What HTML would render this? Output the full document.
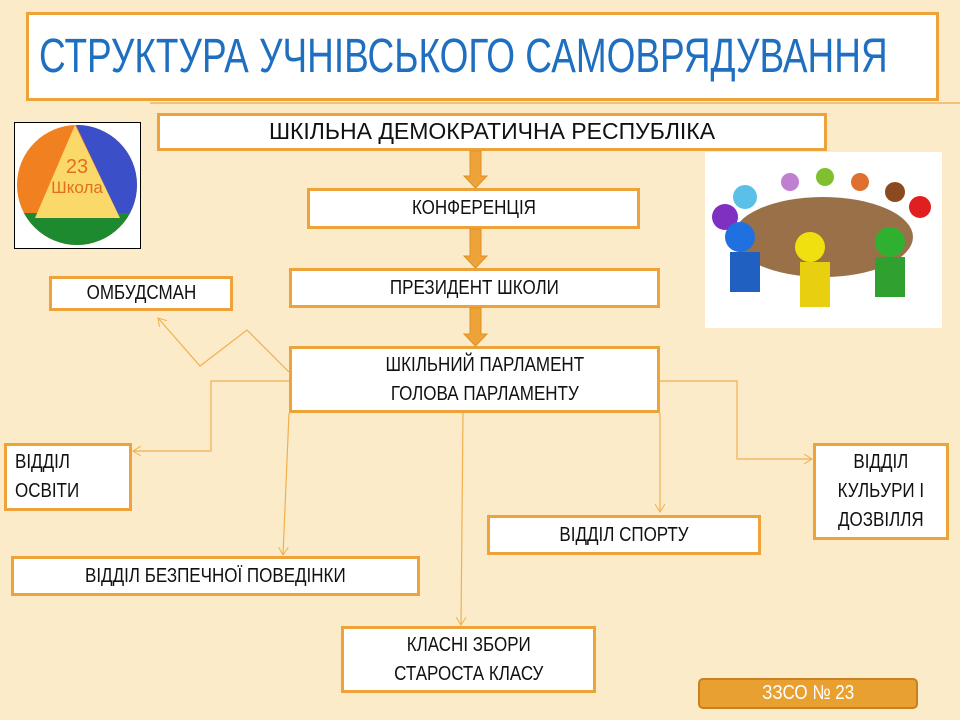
<!DOCTYPE html>
<html><head><meta charset="utf-8"><style>
body{margin:0;width:960px;height:720px;background:#fcebc8;position:relative;overflow:hidden;font-family:"Liberation Sans",sans-serif}
.b{position:absolute;background:#fff;border:3px solid #eda33a;box-sizing:border-box;font-size:20px;color:#111;display:flex;align-items:center;justify-content:center;text-align:center;line-height:1.45}
.n{display:inline-block;transform:scaleX(.85);white-space:nowrap}
</style></head><body>
<div class="b" style="left:26px;top:12px;width:913px;height:89px;justify-content:flex-start;padding-left:10px">
<span style="display:inline-block;transform:scaleX(.77);transform-origin:left;color:#1f6fc0;font-size:48px;white-space:nowrap">СТРУКТУРА УЧНІВСЬКОГО САМОВРЯДУВАННЯ</span></div>
<div style="position:absolute;left:150px;top:102px;width:810px;height:2px;background:#f0c27a"></div>
<div style="position:absolute;left:14px;top:122px;width:127px;height:127px;background:#fff;border:1px solid #000;box-sizing:border-box">
<svg width="125" height="125" viewBox="0 0 125 125"><defs><clipPath id="c"><circle cx="62" cy="62" r="60"/></clipPath></defs>
<g clip-path="url(#c)"><rect width="125" height="125" fill="#f08020"/><polygon points="60,0 125,0 125,95 105,95" fill="#3a4fc8"/><rect y="90" width="125" height="40" fill="#1e8a30"/><polygon points="60,2 20,95 105,95" fill="#fbd86a"/></g>
<text x="62" y="50" text-anchor="middle" font-size="20" fill="#e07020">23</text><text x="62" y="70" text-anchor="middle" font-size="17" fill="#e07020">Школа</text></svg></div>
<div class="b" style="left:157px;top:113px;width:670px;height:38px;font-size:23px"><span class="n" style="transform:scaleX(1)">ШКІЛЬНА ДЕМОКРАТИЧНА РЕСПУБЛІКА</span></div>
<div class="b" style="left:307px;top:188px;width:333px;height:41px"><span class="n">КОНФЕРЕНЦІЯ</span></div>
<div class="b" style="left:289px;top:268px;width:371px;height:40px"><span class="n">ПРЕЗИДЕНТ ШКОЛИ</span></div>
<div class="b" style="left:289px;top:346px;width:371px;height:67px;padding-left:20px"><span class="n">ШКІЛЬНИЙ ПАРЛАМЕНТ<br>ГОЛОВА ПАРЛАМЕНТУ</span></div>
<div class="b" style="left:49px;top:276px;width:184px;height:35px"><span class="n">ОМБУДСМАН</span></div>
<div class="b" style="left:4px;top:443px;width:128px;height:68px;justify-content:flex-start;text-align:left;padding-left:8px"><span class="n" style="transform-origin:left">ВІДДІЛ<br>ОСВІТИ</span></div>
<div class="b" style="left:11px;top:556px;width:409px;height:40px"><span class="n">ВІДДІЛ БЕЗПЕЧНОЇ ПОВЕДІНКИ</span></div>
<div class="b" style="left:487px;top:515px;width:274px;height:40px"><span class="n">ВІДДІЛ СПОРТУ</span></div>
<div class="b" style="left:813px;top:443px;width:136px;height:97px"><span class="n">ВІДДІЛ<br>КУЛЬУРИ І<br>ДОЗВІЛЛЯ</span></div>
<div class="b" style="left:341px;top:626px;width:255px;height:67px"><span class="n">КЛАСНІ ЗБОРИ<br>СТАРОСТА КЛАСУ</span></div>
<div style="position:absolute;left:698px;top:678px;width:220px;height:31px;background:#e8a030;border:2px solid #c88020;border-radius:5px;box-sizing:border-box;color:#fff;font-size:20px;display:flex;align-items:center;justify-content:center"><span class="n">ЗЗСО № 23</span></div>
<div style="position:absolute;left:705px;top:152px;width:237px;height:176px;background:#fff">
<svg width="237" height="176"><ellipse cx="118" cy="85" rx="90" ry="40" fill="#9a7048"/>
<circle cx="40" cy="45" r="12" fill="#5ac0e8"/><circle cx="85" cy="30" r="9" fill="#c080d0"/><circle cx="120" cy="25" r="9" fill="#80c030"/><circle cx="155" cy="30" r="9" fill="#e07030"/><circle cx="190" cy="40" r="10" fill="#8a4a20"/><circle cx="215" cy="55" r="11" fill="#e02020"/><circle cx="20" cy="65" r="13" fill="#8030c0"/><circle cx="35" cy="85" r="15" fill="#2070e0"/><circle cx="105" cy="95" r="15" fill="#f0e010"/><circle cx="185" cy="90" r="15" fill="#30b030"/>
<rect x="25" y="100" width="30" height="40" fill="#2060c0"/><rect x="95" y="110" width="30" height="45" fill="#e8d010"/><rect x="170" y="105" width="30" height="40" fill="#30a030"/></svg></div>
<svg style="position:absolute;left:0;top:0" width="960" height="720">
<defs><marker id="a" markerWidth="10" markerHeight="10" refX="8" refY="5" orient="auto" markerUnits="userSpaceOnUse"><path d="M0,0 L8,5 L0,10" fill="none" stroke="#f0b050" stroke-width="1"/></marker></defs>
<g fill="#eda33a" stroke="#e09020">
<polygon points="470,151 481,151 481,176 487,176 475.5,188 464,176 470,176"/>
<polygon points="470,229 481,229 481,256 487,256 475.5,268 464,256 470,256"/>
<polygon points="470,308 481,308 481,334 487,334 475.5,346 464,334 470,334"/>
</g>
<g fill="none" stroke="#f0b050" stroke-width="1.2">
<polyline points="289,372 247,330 200,366 158,318" marker-end="url(#a)"/>
<polyline points="289,381 211,381 211,451 133,451" marker-end="url(#a)"/>
<polyline points="289,413 283,555" marker-end="url(#a)"/>
<polyline points="463,413 461,625" marker-end="url(#a)"/>
<polyline points="660,413 660,512" marker-end="url(#a)"/>
<polyline points="660,381 737,381 737,459 812,459" marker-end="url(#a)"/>
</g></svg>
</body></html>
